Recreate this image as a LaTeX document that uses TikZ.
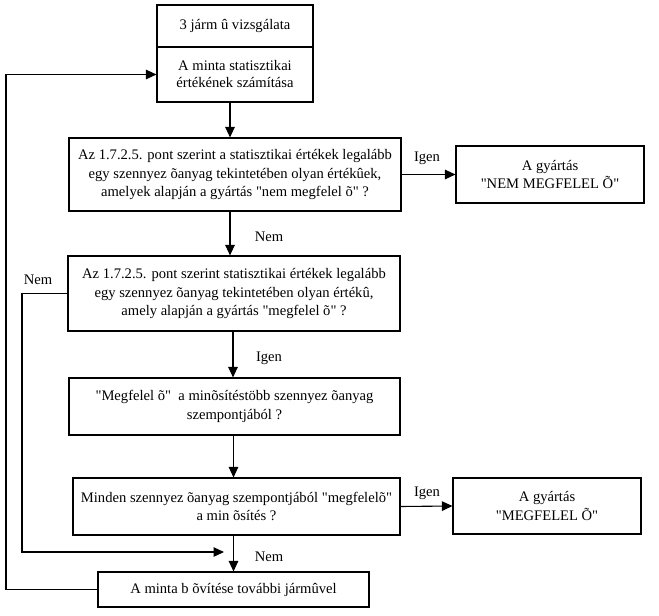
\documentclass[tikz,border=0pt]{standalone}
\usepackage{fontspec}
\setmainfont{Liberation Serif}[Ligatures=TeXOff]
\usetikzlibrary{arrows.meta}
\begin{document}
\begin{tikzpicture}[x=1pt,y=-1pt,
  box/.style={draw,line width=1.1pt,align=center,inner sep=0pt,
    font=\fontsize{14.6}{18.3}\selectfont},
  lbl/.style={font=\fontsize{14.6}{18}\selectfont,inner sep=0pt},
  arr/.style={line width=1.1pt,-{Triangle[length=10.5pt,width=9.5pt]}},
  ln/.style={line width=1.1pt}]
\useasboundingbox (0,0) rectangle (659,616);
\node[box,minimum width=156pt,minimum height=42pt] (b1) at (235,26) {3 járm û vizsgálata};
\node[box,minimum width=156pt,minimum height=55pt,font=\fontsize{14.6}{17}\selectfont] (b2) at (235,74.5) {A minta statisztikai\\értékének számítása};
\node[box,minimum width=332pt,minimum height=73pt] (b3) at (235,174.5) {Az 1.7.2.5. pont szerint a statisztikai értékek legalább\\egy szennyez õanyag tekintetében olyan értékûek,\\amelyek alapján a gyártás "nem megfelel õ" ?};
\node[box,minimum width=188pt,minimum height=57pt] (nem) at (550,174.5) {A gyártás\\"NEM MEGFELEL Õ"};
\node[box,minimum width=332pt,minimum height=75pt] (b4) at (234,293.5) {Az 1.7.2.5. pont szerint statisztikai értékek legalább\\egy szennyez õanyag tekintetében olyan értékû,\\amely alapján a gyártás "megfelel õ" ?};
\node[box,minimum width=331pt,minimum height=57pt] (b5) at (234.5,406.5) {"Megfelel õ"\ \ a minõsítéstöbb szennyez õanyag\\szempontjából ?};
\node[box,minimum width=327pt,minimum height=57pt] (b6) at (236.5,506.5) {Minden szennyez õanyag szempontjából "megfelelõ"\\a min õsítés ?};
\node[box,minimum width=188pt,minimum height=56pt] (meg) at (547,506) {A gyártás\\"MEGFELEL Õ"};
\node[box,minimum width=271pt,minimum height=35pt] (b7) at (233.5,589.5) {A minta b õvítése további jármûvel};
% labels
\node[lbl] (l1) at (427,158) {Igen};
\node[lbl] (l2) at (269,237) {Nem};
\node[lbl] (l3) at (38,280) {Nem};
\node[lbl] (l4) at (269,358) {Igen};
\node[lbl] (l5) at (427,493) {Igen};
\node[lbl] (l6) at (269,557) {Nem};
% coordinates
\coordinate (L) at (6,74.5);
\coordinate (M) at (22,552);
\coordinate (J) at (224,552);
% connectors
\draw[arr] ([xshift=-5pt]b2.south) -- ([xshift=-5pt]b2.south |- b3.north);
\draw[arr] ([xshift=-5pt]b3.south) -- ([xshift=-5pt]b3.south |- b4.north);
\draw[arr] (b3.east) -- (nem.west);
\draw[arr] ([xshift=-1pt]b4.south) -- ([xshift=-1pt]b4.south |- b5.north);
\draw[arr] ([xshift=-1pt]b5.south) -- ([xshift=-1pt]b5.south |- b6.north);
\draw[arr] (b6.east) -- (meg.west);
\draw[arr] ([xshift=-3pt]b6.south) -- ([xshift=-3pt]b6.south |- b7.north);
\draw[arr] (b4.west) -- (b4.west -| M) -- (M) -- (J);
\draw[arr] (b7.west) -- (b7.west -| L) -- (L) -- (b2.west);
\end{tikzpicture}
\end{document}
